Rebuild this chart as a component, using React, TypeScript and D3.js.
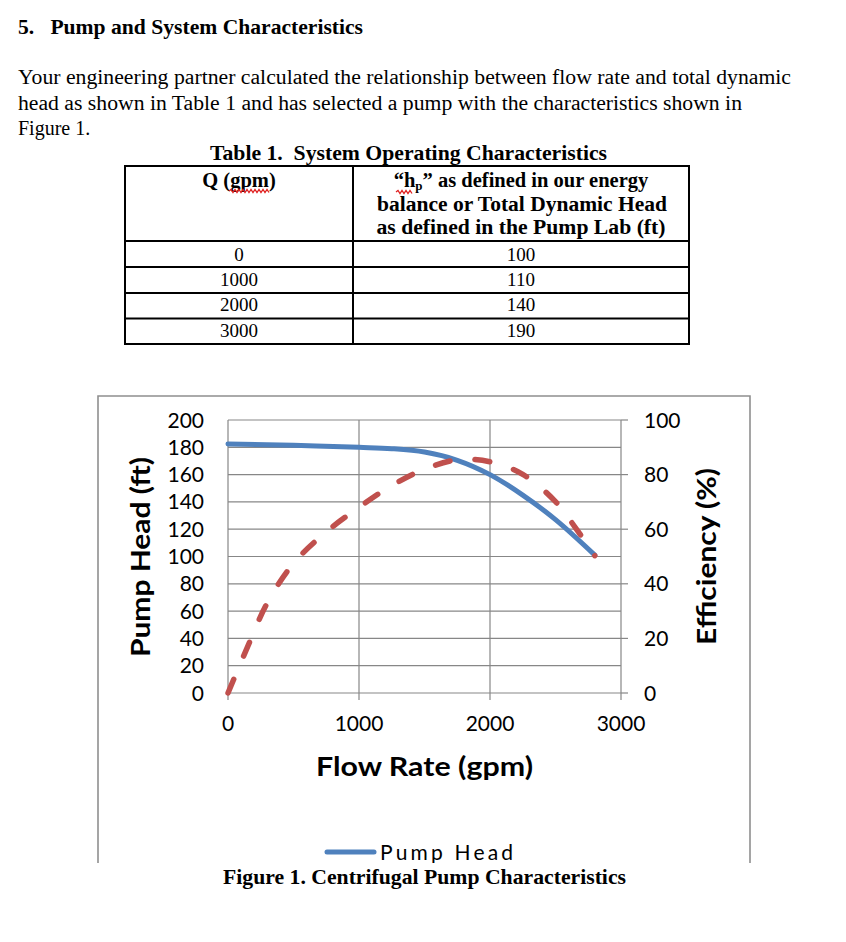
import React from "react";
import * as d3 from "d3";

// ---------- Data ----------
const tableFlow = [0, 1000, 2000, 3000];
const tableHead = [100, 110, 140, 190];

const pumpFlow = [0, 500, 1000, 1250, 1500, 1750, 2000, 2250, 2500, 2800];
const pumpHead = [182.5, 181.5, 180, 179, 176.5, 170.5, 160, 145, 127, 101];

const effFlow = [0, 150, 300, 500, 750, 1000, 1250, 1500, 1750, 2000, 2250, 2500, 2650, 2800];
const effValues = [0, 17, 33, 47.5, 59, 68, 76, 82, 85.4, 84.7, 80.1, 70.1, 60.7, 50.3];

const flowTicks = [0, 1000, 2000, 3000];
const headTicks = [0, 20, 40, 60, 80, 100, 120, 140, 160, 180, 200];
const effTicks = [0, 20, 40, 60, 80, 100];

const paragraph = [
  "Your engineering partner calculated the relationship between flow rate and total dynamic",
  "head as shown in Table 1 and has selected a pump with the characteristics shown in",
  "Figure 1.",
];

const SERIF = "'Liberation Serif', 'Times New Roman', serif";
const SANS = "Lato, 'Noto Sans', sans-serif";

function squiggle(x0: number, x1: number, y: number) {
  let d = `M${x0},${y}`;
  let up = true;
  for (let x = x0 + 2; x <= x1; x += 2) {
    d += ` L${x},${y + (up ? -1.5 : 1.5)}`;
    up = !up;
  }
  return d;
}

export default function App() {
  const x = d3.scaleLinear().domain([0, 3000]).range([228, 621]);
  const yL = d3.scaleLinear().domain([0, 200]).range([693, 420]);
  const yR = d3.scaleLinear().domain([0, 100]).range([693, 420]);

  const headLine = d3
    .line<number>()
    .x((_, i) => x(pumpFlow[i]))
    .y((d) => yL(d))
    .curve(d3.curveCatmullRom.alpha(0.5));
  const effLine = d3
    .line<number>()
    .x((_, i) => x(effFlow[i]))
    .y((d) => yR(d))
    .curve(d3.curveCatmullRom.alpha(0.5));

  const rowLines = [241, 267, 293, 318.5];
  const rowBase = [261, 286, 311, 337];
  const grid = "#878787";

  return (
    <svg
      width={846}
      height={942}
      style={{ position: "absolute", left: 0, top: 0, background: "#fff" }}
    >
      <defs>
        <clipPath id="chartClip">
          <rect x={0} y={380} width={846} height={483} />
        </clipPath>
      </defs>

      {/* Heading & paragraph */}
      <text x={18} y={34} fontFamily={SERIF} fontWeight="bold" fontSize={21} textLength={345} lengthAdjust="spacingAndGlyphs">
        {"5.\u00A0\u00A0\u00A0Pump and System Characteristics"}
      </text>
      <text x={18} y={84} fontFamily={SERIF} fontSize={20} textLength={773} lengthAdjust="spacingAndGlyphs">{paragraph[0]}</text>
      <text x={18} y={110} fontFamily={SERIF} fontSize={20} textLength={724} lengthAdjust="spacingAndGlyphs">{paragraph[1]}</text>
      <text x={18} y={135} fontFamily={SERIF} fontSize={20}>{paragraph[2]}</text>

      {/* Table */}
      <text x={408.5} y={160} textAnchor="middle" fontFamily={SERIF} fontWeight="bold" fontSize={21} textLength={397} lengthAdjust="spacingAndGlyphs">
        {"Table 1.\u00A0 System Operating Characteristics"}
      </text>
      <rect x={125} y={166} width={564} height={178} fill="none" stroke="#000" strokeWidth={2} />
      <line x1={353} x2={353} y1={166} y2={344} stroke="#000" strokeWidth={2} />
      {rowLines.map((yy) => (
        <line key={yy} x1={125} x2={689} y1={yy} y2={yy} stroke="#000" strokeWidth={2} />
      ))}
      <text x={239} y={187} textAnchor="middle" fontFamily={SERIF} fontWeight="bold" fontSize={20.5}>Q (gpm)</text>
      <path d={squiggle(229, 270, 191)} fill="none" stroke="#e02020" strokeWidth={1.3} />
      <text x={521} y={187} textAnchor="middle" fontFamily={SERIF} fontWeight="bold" fontSize={20.5}>
        “h<tspan fontSize={13} dy={3}>p</tspan><tspan dy={-3}>” as defined in our energy</tspan>
      </text>
      <path d={squiggle(396, 412, 192)} fill="none" stroke="#e02020" strokeWidth={1.3} />
      <text x={522} y={211} textAnchor="middle" fontFamily={SERIF} fontWeight="bold" fontSize={20.5} textLength={290} lengthAdjust="spacingAndGlyphs">
        balance or Total Dynamic Head
      </text>
      <text x={521} y={234} textAnchor="middle" fontFamily={SERIF} fontWeight="bold" fontSize={20.5} textLength={289} lengthAdjust="spacingAndGlyphs">
        as defined in the Pump Lab (ft)
      </text>
      {tableFlow.map((q, i) => (
        <g key={q}>
          <text x={239} y={rowBase[i]} textAnchor="middle" fontFamily={SERIF} fontSize={19}>{q}</text>
          <text x={521} y={rowBase[i]} textAnchor="middle" fontFamily={SERIF} fontSize={19}>{tableHead[i]}</text>
        </g>
      ))}

      {/* Chart */}
      <g clipPath="url(#chartClip)">
        <path d="M98,870 V396 H750 V870" fill="none" stroke="#8f8f8f" strokeWidth={1.6} />

        {headTicks.map((t) => (
          <line key={"h" + t} x1={x(0)} x2={x(3000)} y1={yL(t)} y2={yL(t)} stroke={grid} strokeWidth={1.2} />
        ))}
        {effTicks.map((t) => (
          <line key={"rt" + t} x1={x(3000)} x2={x(3000) + 7} y1={yR(t)} y2={yR(t)} stroke={grid} strokeWidth={1.2} />
        ))}
        {flowTicks.map((t) => (
          <line key={"v" + t} x1={x(t)} x2={x(t)} y1={yL(200)} y2={yL(0) + 7} stroke={grid} strokeWidth={1.2} />
        ))}

        {headTicks.map((t) => (
          <text key={"hl" + t} x={204} y={yL(t) + 7.5} textAnchor="end" fontFamily={SANS} fontSize={21} fill="#000">{t}</text>
        ))}
        {effTicks.map((t) => (
          <text key={"el" + t} x={644} y={yR(t) + 7.5} textAnchor="start" fontFamily={SANS} fontSize={21} fill="#000">{t}</text>
        ))}
        {flowTicks.map((t) => (
          <text key={"fl" + t} x={x(t)} y={731} textAnchor="middle" fontFamily={SANS} fontSize={21} fill="#000">{t}</text>
        ))}

        <path d={headLine(pumpHead) || ""} fill="none" stroke="#4F81BD" strokeWidth={5} strokeLinecap="round" />
        <path d={effLine(effValues) || ""} fill="none" stroke="#C0504D" strokeWidth={5.5} strokeLinecap="round" strokeDasharray="15 25" />

        <text x={424.5} y={776} textAnchor="middle" fontFamily={SANS} fontWeight="bold" fontSize={26} textLength={217} lengthAdjust="spacingAndGlyphs">
          Flow Rate (gpm)
        </text>
        <text transform="translate(150,557) rotate(-90)" textAnchor="middle" fontFamily={SANS} fontWeight="bold" fontSize={26} textLength={200} lengthAdjust="spacingAndGlyphs">
          Pump Head (ft)
        </text>
        <text transform="translate(716,556.5) rotate(-90)" textAnchor="middle" fontFamily={SANS} fontWeight="bold" fontSize={26} textLength={177} lengthAdjust="spacingAndGlyphs">
          Efficiency (%)
        </text>

        <line x1={327} x2={374} y1={852} y2={852} stroke="#4F81BD" strokeWidth={5} strokeLinecap="round" />
        <text x={380} y={860} fontFamily={SANS} fontSize={21} textLength={133} lengthAdjust="spacing">Pump Head</text>
      </g>

      <text x={424.5} y={884} textAnchor="middle" fontFamily={SERIF} fontWeight="bold" fontSize={21} textLength={403} lengthAdjust="spacingAndGlyphs">
        Figure 1. Centrifugal Pump Characteristics
      </text>
    </svg>
  );
}
